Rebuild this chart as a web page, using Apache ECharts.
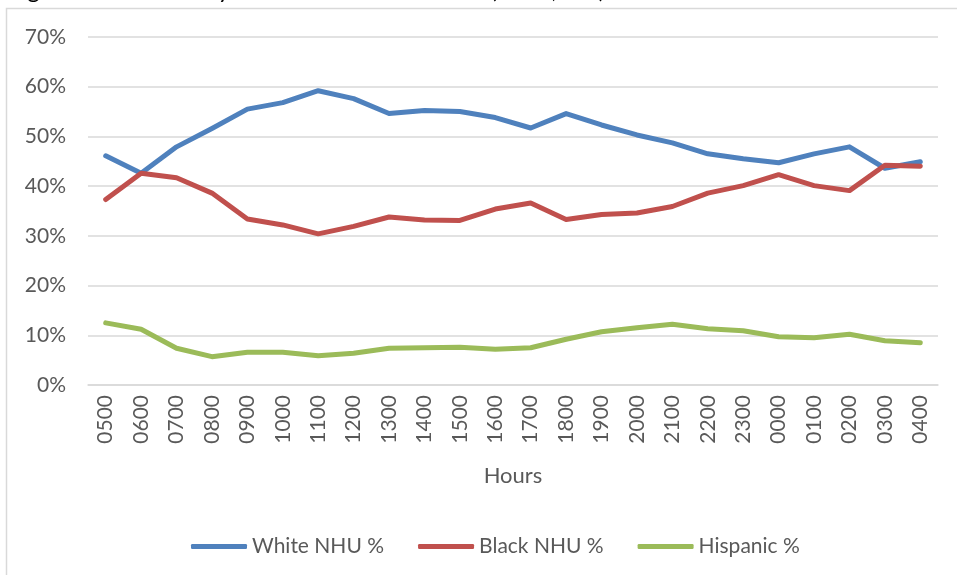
<!DOCTYPE html>
<html>
<head>
<meta charset="utf-8">
<script src="https://cdn.jsdelivr.net/npm/echarts@6/dist/echarts.min.js"></script>
<style>
  html, body { margin: 0; padding: 0; background: #ffffff; }
  #chart { width: 957px; height: 575px; }
</style>
</head>
<body>
<div id="chart"></div>
<script>
// Hour of day, starting at 05:00 and wrapping through midnight
const hours = ['0500','0600','0700','0800','0900','1000','1100','1200','1300','1400','1500','1600',
               '1700','1800','1900','2000','2100','2200','2300','0000','0100','0200','0300','0400'];

// Share of citations per hour (%)
const whiteNHU = [46.1, 42.6, 47.9, 51.6, 55.5, 56.8, 59.2, 57.6, 54.6, 55.2, 55.0, 53.8,
                  51.7, 54.6, 52.3, 50.3, 48.7, 46.5, 45.5, 44.7, 46.5, 47.9, 43.6, 44.9];
const blackNHU = [37.3, 42.6, 41.7, 38.6, 33.4, 32.2, 30.4, 31.9, 33.8, 33.2, 33.1, 35.4,
                  36.6, 33.3, 34.3, 34.6, 35.9, 38.6, 40.1, 42.3, 40.1, 39.1, 44.2, 44.0];
const hispanic = [12.5, 11.2, 7.4, 5.7, 6.6, 6.6, 5.9, 6.4, 7.4, 7.5, 7.6, 7.2,
                  7.5, 9.2, 10.7, 11.5, 12.2, 11.3, 10.9, 9.7, 9.5, 10.2, 8.9, 8.5];

const seriesNames = ['White NHU %', 'Black NHU %', 'Hispanic %'];
const colors = ['#4f81bd', '#c0504d', '#9bbb59'];

const FONT = 'Lato, "Open Sans", sans-serif';
const TEXT = '#595959';
const GRID = '#d9d9d9';

const chart = echarts.init(document.getElementById('chart'), null, { renderer: 'canvas' });

const mkLine = (name, data, color) => ({
  name, type: 'line', data,
  showSymbol: false, symbol: 'none', smooth: false,
  lineStyle: { color, width: 5, cap: 'round', join: 'round' },
  itemStyle: { color },
  emphasis: { disabled: true }
});

chart.setOption({
  animation: false,
  backgroundColor: '#ffffff',
  textStyle: { fontFamily: FONT },
  graphic: [
    {
      type: 'rect', silent: true, z: -1,
      shape: { x: 6.5, y: 8.5, width: 1000, height: 1000 },
      style: { fill: 'none', stroke: GRID, lineWidth: 1.5 }
    },
    {
      type: 'text', silent: true,
      x: 8, y: 2,
      style: {
        text: 'Figure 3: Time of day citations were recorded (n=18,407)',
        fill: '#000000', font: '24px ' + FONT, verticalAlign: 'bottom'
      }
    }
  ],
  grid: { left: 88, right: 19, top: 37, bottom: 190, containLabel: false },
  legend: {
    data: seriesNames,
    bottom: 13, left: 186,
    icon: 'roundRect', itemWidth: 56, itemHeight: 5, itemGap: 34,
    textStyle: { color: TEXT, fontSize: 21, fontFamily: FONT }
  },
  xAxis: {
    type: 'category', data: hours, boundaryGap: true,
    name: 'Hours', nameLocation: 'middle', nameGap: 80,
    nameTextStyle: { color: TEXT, fontSize: 22, fontFamily: FONT },
    axisLine: { show: true, lineStyle: { color: GRID, width: 1.5 } },
    axisTick: { show: false },
    axisLabel: { rotate: 90, margin: 10, color: TEXT, fontSize: 21, fontFamily: FONT, interval: 0 }
  },
  yAxis: {
    type: 'value', min: 0, max: 70, interval: 10,
    axisLine: { show: false }, axisTick: { show: false },
    splitLine: { lineStyle: { color: GRID, width: 1.5 } },
    axisLabel: { formatter: '{value}%', margin: 22, color: TEXT, fontSize: 21, fontFamily: FONT }
  },
  series: [
    mkLine(seriesNames[0], whiteNHU, colors[0]),
    mkLine(seriesNames[1], blackNHU, colors[1]),
    mkLine(seriesNames[2], hispanic, colors[2])
  ]
});
</script>
</body>
</html>
